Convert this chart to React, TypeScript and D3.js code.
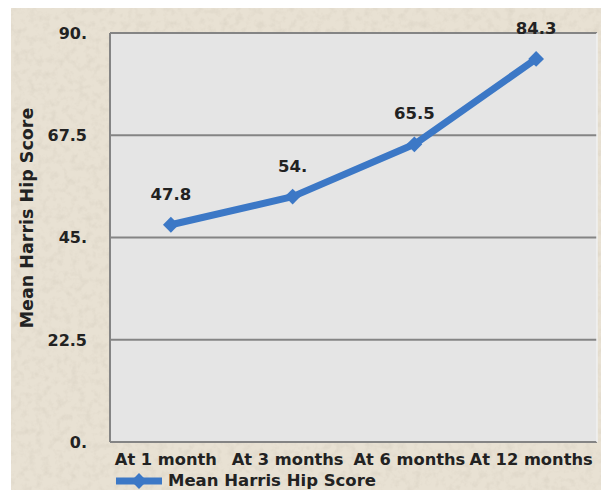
import React from "react";
import * as d3 from "d3";

// Chart data
const categories: string[] = ["At 1 month", "At 3 months", "At 6 months", "At 12 months"];
const meanScores: number[] = [47.8, 54, 65.5, 84.3];
const valueLabels: string[] = ["47.8", "54.", "65.5", "84.3"];
const yTickValues: number[] = [0, 22.5, 45, 67.5, 90];
const yTickLabels: string[] = ["0.", "22.5", "45.", "67.5", "90."];
const seriesName = "Mean Harris Hip Score";
const axisTitle = "Mean Harris Hip Score";

const W = 601;
const H = 490;
const plot = { left: 110, right: 597, top: 33, bottom: 442 };
const BLUE = "#3c78c6";
const FONT = "'DejaVu Sans', Verdana, sans-serif";

export default function App() {
  const x = d3.scaleBand<string>().domain(categories).range([plot.left, plot.right]).padding(0);
  const y = d3.scaleLinear().domain([0, 90]).range([plot.bottom, plot.top]);
  const cx = (c: string) => (x(c) ?? 0) + x.bandwidth() / 2;

  const pts: [number, number][] = categories.map((c, i) => [cx(c), y(meanScores[i])]);
  const linePath = d3.line()(pts) ?? "";
  const marker = d3.symbol(d3.symbolSquare, 125)() ?? "";

  return (
    <svg
      width={W}
      height={H}
      viewBox={`0 0 ${W} ${H}`}
      style={{ position: "absolute", left: 0, top: 0, display: "block" }}
    >
      <defs>
        <filter id="paper" x="0" y="0" width="100%" height="100%">
          <feTurbulence type="fractalNoise" baseFrequency="0.14" numOctaves="3" seed="7" result="n" />
          <feColorMatrix
            in="n"
            type="matrix"
            values="0 0 0 0 0.6  0 0 0 0 0.55  0 0 0 0 0.46  0 0 0 -2.4 1.35"
          />
        </filter>
      </defs>
      <rect x={0} y={0} width={W} height={H} fill="#ffffff" />
      <rect x={11} y={8} width={W - 11} height={H - 8} fill="#e8e1d3" />
      <rect x={11} y={8} width={W - 11} height={H - 8} filter="url(#paper)" opacity={0.3} />

      {/* plot area */}
      <rect
        x={plot.left}
        y={plot.top}
        width={plot.right - plot.left}
        height={plot.bottom - plot.top}
        fill="#e5e5e5"
      />
      {yTickValues.map((v) => (
        <line
          key={`g${v}`}
          x1={plot.left}
          x2={plot.right}
          y1={y(v)}
          y2={y(v)}
          stroke="#848484"
          strokeWidth={2}
        />
      ))}
      <line x1={plot.left} x2={plot.left} y1={plot.top} y2={plot.bottom} stroke="#848484" strokeWidth={2} />
      <line x1={plot.right} x2={plot.right} y1={plot.top} y2={plot.bottom} stroke="#f0f0f0" strokeWidth={1.5} />

      {/* y tick labels */}
      {yTickValues.map((v, i) => (
        <text
          key={`t${v}`}
          x={87}
          y={y(v)}
          dy="0.36em"
          textAnchor="end"
          fontFamily={FONT}
          fontWeight="bold"
          fontSize={16}
          fill="#222"
        >
          {yTickLabels[i]}
        </text>
      ))}

      {/* axis title */}
      <text
        transform={`translate(33,${218}) rotate(-90)`}
        textAnchor="middle"
        fontFamily={FONT}
        fontWeight="bold"
        fontSize={17.5}
        fill="#222"
      >
        {axisTitle}
      </text>

      {/* category labels */}
      {categories.map((c) => (
        <text
          key={c}
          x={cx(c) - 5}
          y={465}
          textAnchor="middle"
          fontFamily={FONT}
          fontWeight="bold"
          fontSize={16.3}
          fill="#222"
        >
          {c}
        </text>
      ))}

      {/* series */}
      <path d={linePath} fill="none" stroke={BLUE} strokeWidth={7} strokeLinejoin="round" />
      {pts.map(([px, py], i) => (
        <path key={`m${i}`} d={marker} transform={`translate(${px},${py}) rotate(45)`} fill={BLUE} />
      ))}
      {pts.map(([px, py], i) => (
        <text
          key={`l${i}`}
          x={px}
          y={py - 25}
          textAnchor="middle"
          fontFamily={FONT}
          fontWeight="bold"
          fontSize={16.5}
          fill="#222"
        >
          {valueLabels[i]}
        </text>
      ))}

      {/* legend */}
      <line x1={116} x2={162} y1={481} y2={481} stroke={BLUE} strokeWidth={7} />
      <path d={marker} transform="translate(139,481) rotate(45)" fill={BLUE} />
      <text x={168} y={485.5} fontFamily={FONT} fontWeight="bold" fontSize={16.5} fill="#222">
        {seriesName}
      </text>
    </svg>
  );
}
